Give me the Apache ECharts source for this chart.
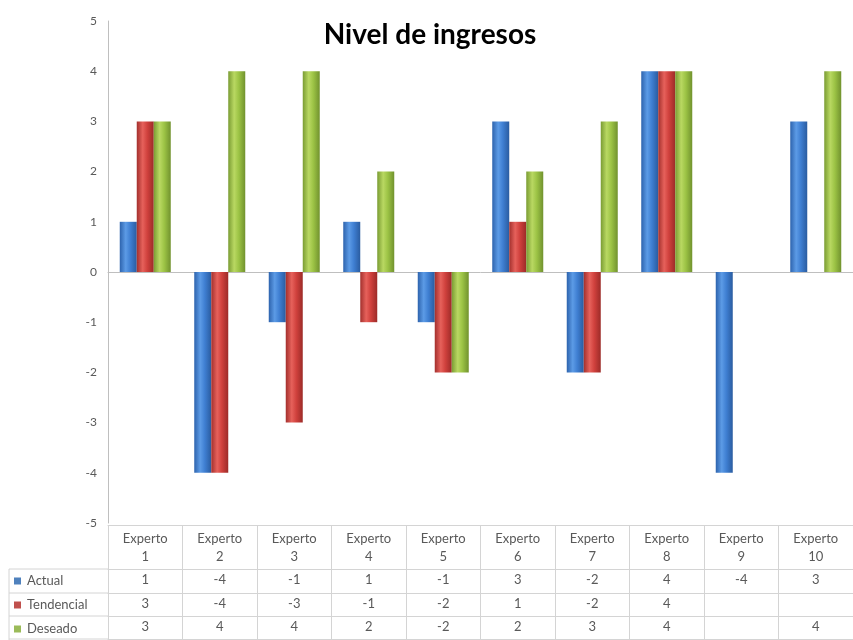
<!DOCTYPE html>
<html>
<head>
<meta charset="utf-8">
<script src="https://cdn.jsdelivr.net/npm/echarts@6/dist/echarts.min.js"></script>
<style>html,body{margin:0;padding:0;background:#fff}#c{width:853px;height:640px}</style>
</head>
<body>
<div id="c"></div>
<script>
const categories = ['Experto 1','Experto 2','Experto 3','Experto 4','Experto 5','Experto 6','Experto 7','Experto 8','Experto 9','Experto 10'];
const actual = [1,-4,-1,1,-1,3,-2,4,-4,3];
const tendencial = [3,-4,-3,-1,-2,1,-2,4,null,null];
const deseado = [3,4,4,2,-2,2,3,4,null,4];
const seriesNames = ['Actual','Tendencial','Deseado'];
const yMin = -5, yMax = 5, yStep = 1;
const titleText = 'Nivel de ingresos';

const FONT = 'Lato';
const TXT = '#595959';
const LINE = '#d4d4d4';
const baseColors = ['#4F81BD','#C0504D','#9BBB59'];
function grad(a,b,c,d){
  return {type:'linear',x:0,y:0,x2:1,y2:0,colorStops:[
    {offset:0,color:a},{offset:0.35,color:b},{offset:0.62,color:c},{offset:1,color:d}]};
}
const gradients = [
  grad('#2d63ad','#5c9be6','#3f7fd2','#2a5ca0'),
  grad('#a3302d','#e6615b','#d0413d','#9c2b28'),
  grad('#7a9c33','#b9d862','#9cc345','#71922e')
];
const rows = [actual, tendencial, deseado];

const chart = echarts.init(document.getElementById('c'), null, {renderer:'canvas'});

const rowOffsets = [46, 70, 93];
const rowTicks = [24, 23, 24];

const xAxes = [
  { type:'category', data:categories, position:'bottom',
    axisLine:{onZero:true, lineStyle:{color:'#bfbfbf'}},
    axisTick:{show:false}, axisLabel:{show:false}, splitLine:{show:false} },
  { type:'category', data:categories, position:'bottom', offset:2,
    axisLine:{onZero:false, lineStyle:{color:LINE}},
    axisTick:{show:true, interval:0, length:44, lineStyle:{color:LINE}},
    axisLabel:{interval:0, margin:5, lineHeight:18, fontSize:13, color:TXT, fontFamily:FONT,
      formatter:(v)=>v.replace(' ','\n')} }
];
rows.forEach((r,i)=>{
  xAxes.push({ type:'category', data:categories, position:'bottom', offset:rowOffsets[i],
    axisLine:{onZero:false, lineStyle:{color:LINE}},
    axisTick:{show:true, interval:0, length:rowTicks[i], lineStyle:{color:LINE}},
    axisLabel:{interval:0, margin:3, lineHeight:16, fontSize:13, color:TXT, fontFamily:FONT,
      formatter:(v,idx)=> (r[idx]===null||r[idx]===undefined) ? '' : String(r[idx])} });
});
xAxes.push({ type:'category', data:categories, position:'bottom', offset:116,
    axisLine:{onZero:false, lineStyle:{color:LINE}}, axisTick:{show:false}, axisLabel:{show:false} });

const series = seriesNames.map((name,i)=>({
  name, type:'bar', xAxisIndex:0, yAxisIndex:0,
  data: rows[i], barWidth:17, barGap:'0%', barCategoryGap:'31%',
  itemStyle:{color:gradients[i]}
}));

chart.setOption({
  animation:false,
  backgroundColor:'#ffffff',
  title:{ text:titleText, left:430, textAlign:'center', top:21, padding:0,
    textStyle:{fontFamily:FONT, fontWeight:'bold', fontSize:28, color:'#000'} },
  legend:{ orient:'vertical', left:14, top:573, padding:0, itemGap:8, itemWidth:7, itemHeight:7,
    selectedMode:false, icon:'rect',
    data: seriesNames.map((n,i)=>({name:n, itemStyle:{color:baseColors[i]}})),
    textStyle:{fontFamily:FONT, fontSize:13, color:TXT, lineHeight:16, padding:[0,0,0,1]} },
  grid:{ left:108, right:0, top:21, bottom:117, containLabel:false },
  xAxis: xAxes,
  yAxis:{ type:'value', min:yMin, max:yMax, interval:yStep,
    axisLine:{show:true, lineStyle:{color:'#bfbfbf'}}, axisTick:{show:false}, splitLine:{show:false},
    axisLabel:{margin:11, fontSize:12, color:TXT, fontFamily:FONT} },
  graphic:[
    {type:'line', shape:{x1:9,y1:569,x2:108,y2:569}, style:{stroke:LINE,lineWidth:1}},
    {type:'line', shape:{x1:9,y1:593,x2:108,y2:593}, style:{stroke:LINE,lineWidth:1}},
    {type:'line', shape:{x1:9,y1:616,x2:108,y2:616}, style:{stroke:LINE,lineWidth:1}},
    {type:'line', shape:{x1:9,y1:639,x2:108,y2:639}, style:{stroke:LINE,lineWidth:1}},
    {type:'line', shape:{x1:9,y1:569,x2:9,y2:640}, style:{stroke:LINE,lineWidth:1}}
  ],
  series
});
</script>
</body>
</html>
